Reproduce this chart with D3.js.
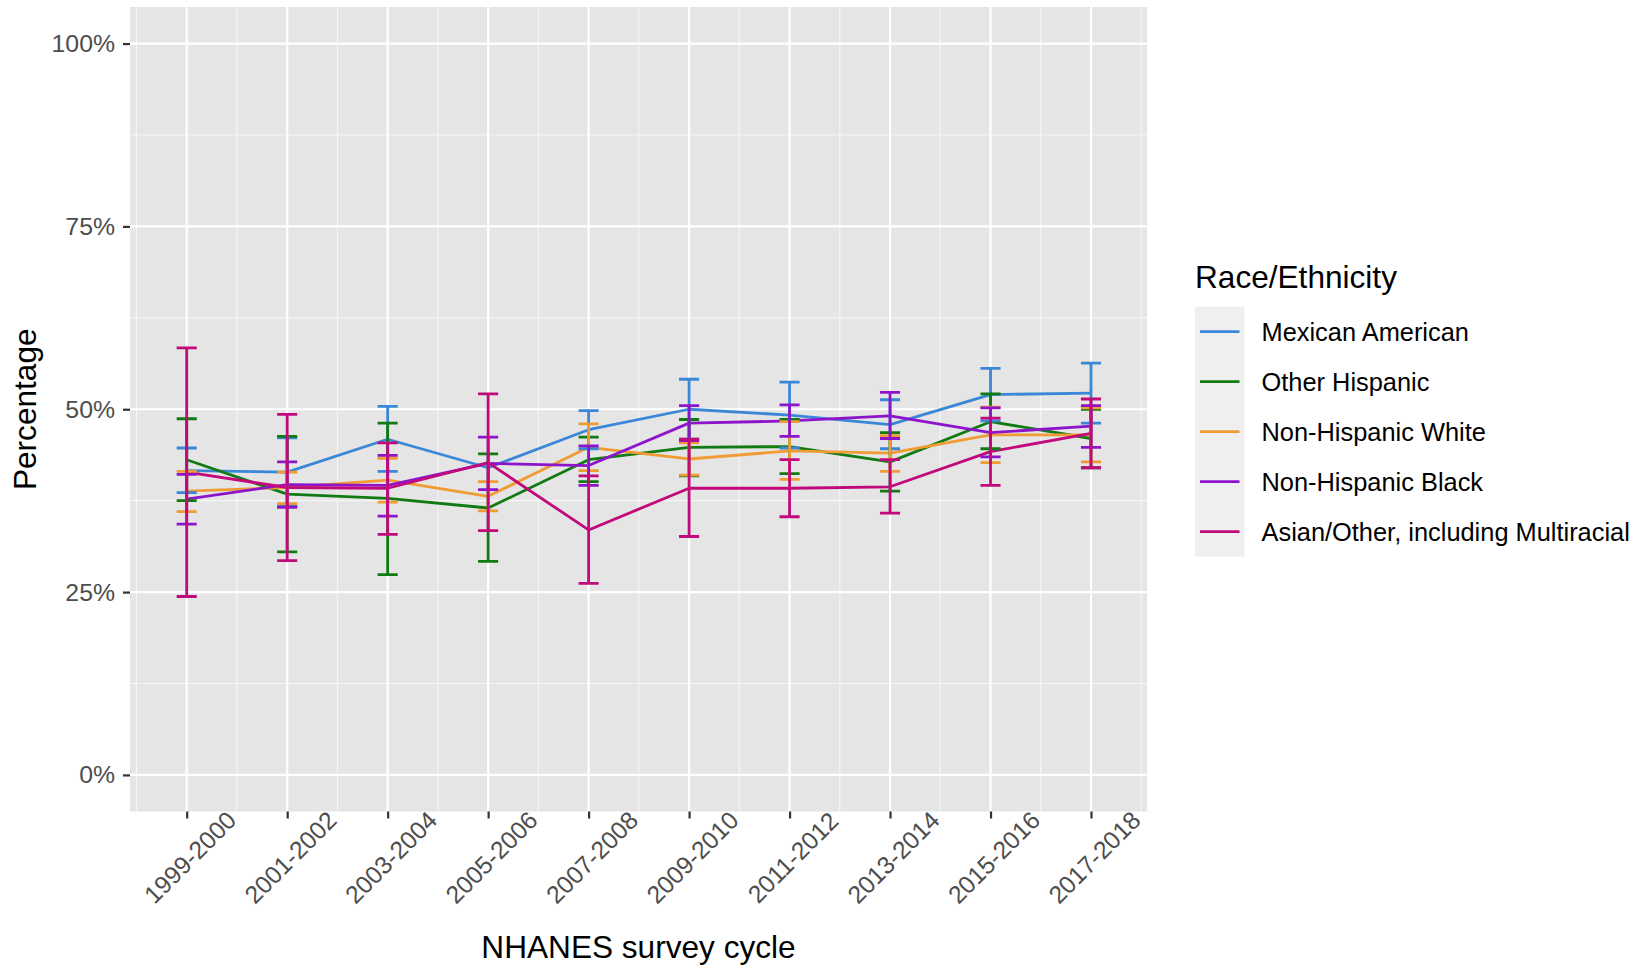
<!DOCTYPE html>
<html>
<head>
<meta charset="utf-8">
<script src="https://cdn.jsdelivr.net/npm/d3@7"></script>
<style>
  html, body { margin: 0; padding: 0; background: #ffffff; }
  svg { display: block; font-family: "Liberation Sans", Arial, Helvetica, sans-serif; }
</style>
</head>
<body>
<svg id="chart" width="1636" height="969"></svg>
<script>
// Survey cycles on the x axis
const cycles = ["1999-2000", "2001-2002", "2003-2004", "2005-2006", "2007-2008",
                "2009-2010", "2011-2012", "2013-2014", "2015-2016", "2017-2018"];

// Race/ethnicity groups (legend order)
const groups = ["Mexican American", "Other Hispanic", "Non-Hispanic White",
                "Non-Hispanic Black", "Asian/Other, including Multiracial"];
const groupColors = ["#3a87d8", "#127a12", "#f09b33", "#8e14cc", "#c2097b"];

// Percentages with lower / upper confidence bounds (null = no interval shown)
const mexicanPct  = [41.6, 41.4, 45.9, 42.0, 47.2, 50.0, 49.2, 47.9, 52.0, 52.2];
const mexicanLow  = [38.6, 36.7, 41.5, null, 44.6, 45.9, 44.7, 44.6, 48.4, 48.1];
const mexicanHigh = [44.7, 46.1, 50.4, null, 49.8, 54.1, 53.7, 51.3, 55.6, 56.3];

const otherHispPct  = [43.1, 38.4, 37.8, 36.5, 43.1, 44.8, 44.9, 42.8, 48.3, 46.0];
const otherHispLow  = [37.5, 30.5, 27.4, 29.2, 40.1, 40.9, 41.2, 38.8, 44.6, 42.0];
const otherHispHigh = [48.7, 46.3, 48.1, 43.9, 46.2, 48.6, 48.6, 46.8, 52.1, 50.0];

const whitePct  = [38.8, 39.3, 40.3, 38.1, 44.8, 43.2, 44.3, 44.0, 46.5, 46.5];
const whiteLow  = [36.0, 37.1, 37.3, 36.1, 41.6, 41.0, 40.4, 41.5, 42.7, 42.8];
const whiteHigh = [41.5, 41.4, 43.3, 40.1, 48.0, 45.4, 48.3, 46.4, 50.3, 50.2];

const blackPct  = [37.7, 39.7, 39.6, 42.6, 42.3, 48.1, 48.4, 49.1, 46.8, 47.7];
const blackLow  = [34.3, 36.6, 35.4, 39.0, 39.6, 45.7, 46.3, 46.0, 43.5, 44.8];
const blackHigh = [41.1, 42.8, 43.7, 46.2, 45.0, 50.5, 50.6, 52.3, 50.2, 50.5];

const asianPct  = [41.4, 39.3, 39.2, 42.7, 33.5, 39.2, 39.2, 39.4, 44.2, 46.7];
const asianLow  = [24.4, 29.3, 32.9, 33.4, 26.2, 32.6, 35.3, 35.8, 39.6, 42.0];
const asianHigh = [58.4, 49.3, 45.4, 52.1, 40.9, 45.9, 43.1, 43.1, 48.8, 51.4];

// Y axis ticks
const yTicks = [0, 25, 50, 75, 100];
const yMinorTicks = [12.5, 37.5, 62.5, 87.5];

const seriesPct  = [mexicanPct, otherHispPct, whitePct, blackPct, asianPct];
const seriesLow  = [mexicanLow, otherHispLow, whiteLow, blackLow, asianLow];
const seriesHigh = [mexicanHigh, otherHispHigh, whiteHigh, blackHigh, asianHigh];

const series = groups.map((g, i) => ({
  name: g,
  color: groupColors[i],
  points: cycles.map((c, j) => ({
    cycle: c, pct: seriesPct[i][j], low: seriesLow[i][j], high: seriesHigh[i][j]
  }))
}));

// Layout
const panel = { left: 130, right: 1147, top: 7, bottom: 811.5 };
const svg = d3.select("#chart");

const x = d3.scalePoint()
  .domain(cycles)
  .range([186.7, 1091]);
const step = x.step();

const y = d3.scaleLinear()
  .domain([-5, 105])
  .range([panel.bottom, panel.top]);

// Panel background
svg.append("rect")
  .attr("x", panel.left).attr("y", panel.top)
  .attr("width", panel.right - panel.left)
  .attr("height", panel.bottom - panel.top)
  .attr("fill", "#e5e5e5");

const grid = svg.append("g");
// minor horizontal grid
grid.selectAll(".hminor").data(yMinorTicks).enter().append("line")
  .attr("x1", panel.left).attr("x2", panel.right)
  .attr("y1", d => y(d)).attr("y2", d => y(d))
  .attr("stroke", "#f6f6f6").attr("stroke-width", 1.1);
// minor vertical grid (halfway between cycles)
const vMinor = cycles.map(c => x(c) - step / 2).concat([x(cycles[cycles.length - 1]) + step / 2]);
grid.selectAll(".vminor").data(vMinor).enter().append("line")
  .attr("x1", d => d).attr("x2", d => d)
  .attr("y1", panel.top).attr("y2", panel.bottom)
  .attr("stroke", "#f6f6f6").attr("stroke-width", 1.1);
// major grid
grid.selectAll(".hmajor").data(yTicks).enter().append("line")
  .attr("x1", panel.left).attr("x2", panel.right)
  .attr("y1", d => y(d)).attr("y2", d => y(d))
  .attr("stroke", "#ffffff").attr("stroke-width", 2.2);
grid.selectAll(".vmajor").data(cycles).enter().append("line")
  .attr("x1", d => x(d)).attr("x2", d => x(d))
  .attr("y1", panel.top).attr("y2", panel.bottom)
  .attr("stroke", "#ffffff").attr("stroke-width", 2.2);

// Y axis
const yAxis = svg.append("g")
  .attr("transform", `translate(${panel.left},0)`)
  .call(d3.axisLeft(y).tickValues(yTicks).tickFormat(d => d + "%").tickSizeInner(7).tickSizeOuter(0).tickPadding(8));
yAxis.select(".domain").remove();
yAxis.selectAll(".tick line").attr("stroke", "#333333").attr("stroke-width", 2.2);
yAxis.selectAll(".tick text")
  .attr("fill", "#4d4d4d")
  .style("font-size", "24.8px")
  .style("font-family", "'Liberation Sans', Arial, sans-serif");

// X axis
const xAxis = svg.append("g")
  .attr("transform", `translate(0,${panel.bottom})`)
  .call(d3.axisBottom(x).tickSizeInner(7).tickSizeOuter(0));
xAxis.select(".domain").remove();
xAxis.selectAll(".tick line").attr("stroke", "#333333").attr("stroke-width", 2.2);
xAxis.selectAll(".tick text")
  .attr("fill", "#4d4d4d")
  .attr("text-anchor", "middle")
  .attr("x", 0).attr("y", 0).attr("dy", 0)
  .attr("transform", "translate(3,46) rotate(-45)")
  .attr("dominant-baseline", "central")
  .style("font-size", "24.6px")
  .style("font-family", "'Liberation Sans', Arial, sans-serif");

// Lines
const line = d3.line().x(d => x(d.cycle)).y(d => y(d.pct));
const plot = svg.append("g");
plot.selectAll(".series-line").data(series).enter().append("path")
  .attr("d", d => line(d.points))
  .attr("fill", "none")
  .attr("stroke", d => d.color)
  .attr("stroke-width", 2.8)
  .attr("stroke-linejoin", "round");

// Error bars
const capHalf = step * 0.1;
series.forEach(s => {
  const g = plot.append("g").attr("stroke", s.color).attr("stroke-width", 2.8).attr("fill", "none");
  s.points.filter(p => p.low != null && p.high != null).forEach(p => {
    const cx = x(p.cycle);
    g.append("path")
      .attr("d", `M${cx - capHalf},${y(p.high)}H${cx + capHalf}M${cx},${y(p.high)}V${y(p.low)}M${cx - capHalf},${y(p.low)}H${cx + capHalf}`);
  });
});

// Axis titles
svg.append("text")
  .attr("x", (panel.left + panel.right) / 2).attr("y", 958)
  .attr("text-anchor", "middle")
  .attr("fill", "#000000")
  .style("font-size", "31.6px")
  .text("NHANES survey cycle");

svg.append("text")
  .attr("transform", `translate(36,${(panel.top + panel.bottom) / 2}) rotate(-90)`)
  .attr("text-anchor", "middle")
  .attr("fill", "#000000")
  .style("font-size", "31.6px")
  .text("Percentage");

// Legend
const legend = svg.append("g").attr("transform", "translate(1195,0)");
legend.append("text")
  .attr("x", 0).attr("y", 288)
  .attr("fill", "#000000")
  .style("font-size", "31.6px")
  .text("Race/Ethnicity");

const keyTop = 306.7, keyH = 50, keyW = 49.5;
const items = legend.selectAll(".item").data(series).enter().append("g")
  .attr("transform", (d, i) => `translate(0,${keyTop + i * keyH})`);
items.append("rect")
  .attr("x", 0).attr("y", 0).attr("width", keyW).attr("height", keyH)
  .attr("fill", "#efefef");
items.append("line")
  .attr("x1", 5).attr("x2", keyW - 5)
  .attr("y1", keyH / 2).attr("y2", keyH / 2)
  .attr("stroke", d => d.color).attr("stroke-width", 2.8);
items.append("text")
  .attr("x", 66.5).attr("y", keyH / 2 + 9)
  .attr("fill", "#000000")
  .style("font-size", "25.4px")
  .text(d => d.name);
</script>
</body>
</html>
